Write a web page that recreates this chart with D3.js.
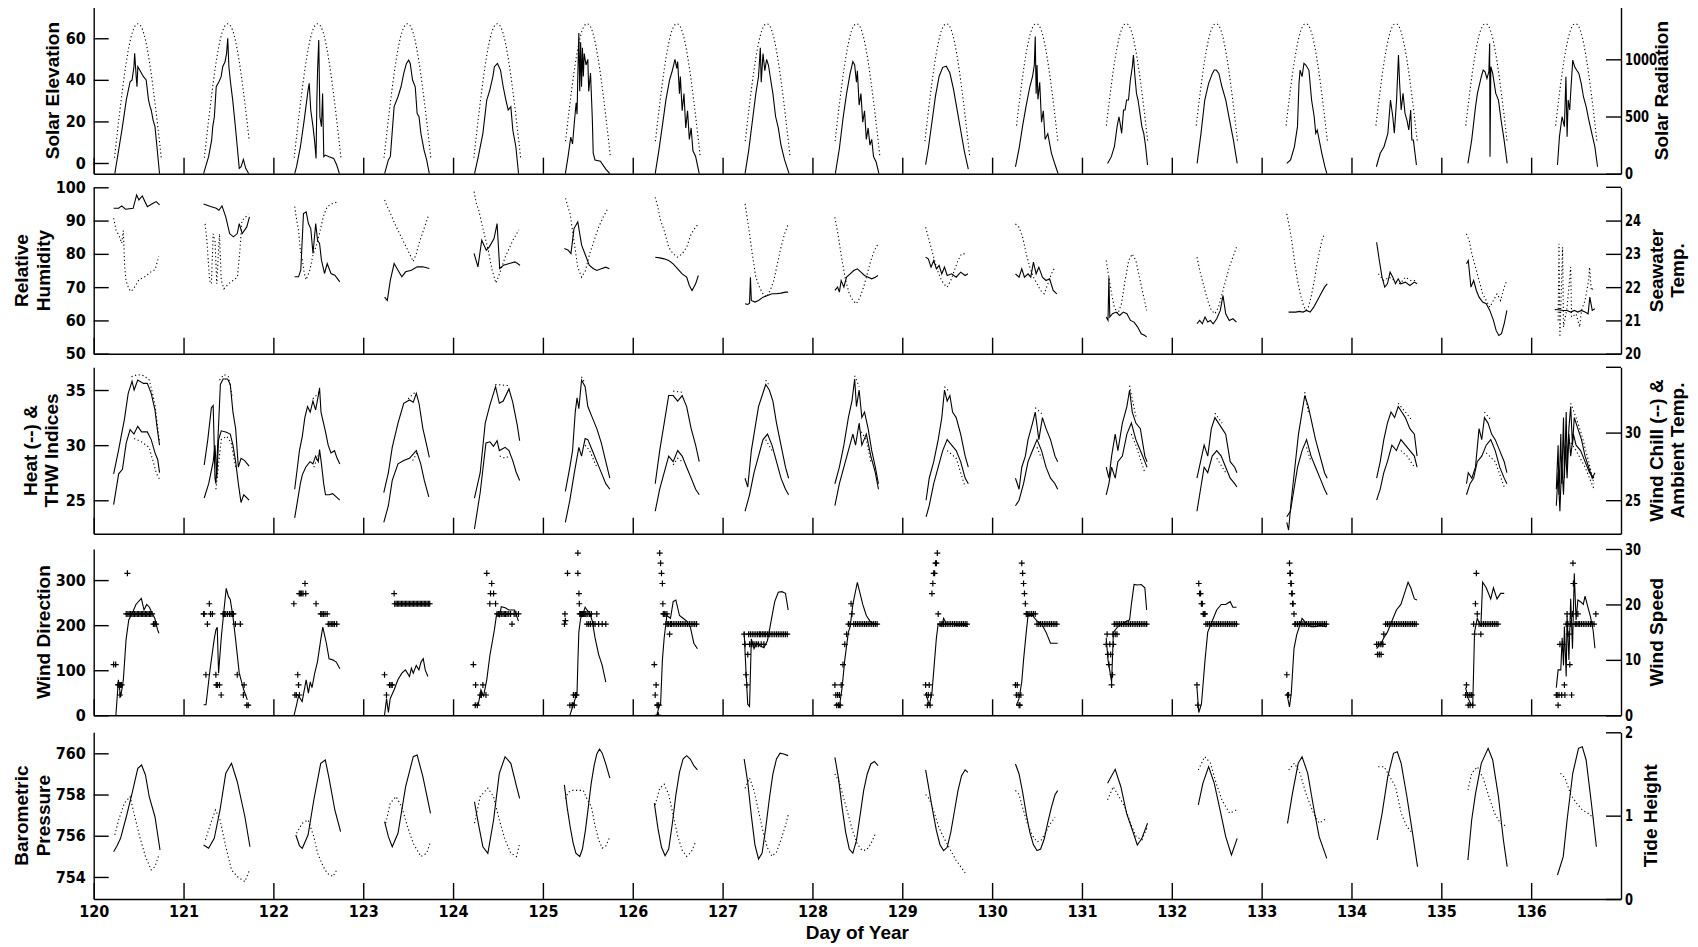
<!DOCTYPE html>
<html><head><meta charset="utf-8">
<script src="https://cdn.jsdelivr.net/npm/d3@7"></script>
<style>
html,body{margin:0;background:#fff;}
svg{display:block;}
.tick text{font-family:"Liberation Sans Narrow","Arial Narrow","DejaVu Sans Condensed",sans-serif;font-weight:bold;font-size:16px;fill:#000;}
.lab{font-family:"Liberation Sans",Arial,sans-serif;font-weight:bold;font-size:19px;fill:#000;}
</style></head><body>
<svg id="chart" width="1698" height="947"></svg>
<script>
(function(){
const days=[120,121,122,123,124,125,126,127,128,129,130,131,132,133,134,135,136];
const dayLabels=[120,121,122,123,124,125,126,127,128,129,130,131,132,133,134,135,136];

// solar elevation (deg) by time of day, and the logged part of each day
const sunT=[.212,.232,.252,.272,.292,.312,.332,.352,.372,.392,.412,.432,.452,.472,.492,.512,.532,.552,.572,.592,.612,.632,.652,.672,.692,.712,.732,.752,.772];
const sunElev=[-5,2.5,10.5,18,25.4,32.5,39.2,45.4,51,55.9,60,63.2,65.4,66.7,67,66.7,65.4,63.2,60,55.9,51,45.4,39.2,32.5,25.4,18,10.5,2.5,-5];
const sunWindow=[[.22,.76],[.22,.745],[.23,.76],[.225,.76],[.23,.76],[.24,.76],[.24,.76],[.245,.76],[.25,.76],[.25,.76],[.255,.75],[.26,.74],[.265,.74],[.265,.74],[.265,.74],[.27,.74],[.27,.74]];

// solar radiation (W/m2), [time of day, value]
const solarRad=[
[[.235,0],[.278,207],[.32,411],[.363,645],[.405,804],[.427,819],[.448,935],[.456,1052],[.473,848],[.482,760],[.491,935],[.512,906],[.554,848],[.584,819],[.61,645],[.627,586],[.64,557],[.661,469],[.682,411],[.704,236],[.733,0]],
[[.223,0],[.279,149],[.313,294],[.325,411],[.343,498],[.364,760],[.394,804],[.419,848],[.436,935],[.462,979],[.479,1052],[.492,1183],[.505,935],[.522,804],[.547,645],[.577,411],[.598,236],[.62,47],[.641,61],[.666,125],[.692,47],[.726,0]],
[[.237,0],[.258,61],[.301,236],[.343,469],[.386,731],[.399,790],[.416,557],[.441,411],[.458,294],[.475,134],[.484,644],[.492,906],[.505,1168],[.518,498],[.535,411],[.548,702],[.561,149],[.578,163],[.62,149],[.671,134],[.705,76],[.735,0]],
[[.238,0],[.28,120],[.302,149],[.344,586],[.387,673],[.421,760],[.451,877],[.481,964],[.506,993],[.523,964],[.549,819],[.579,760],[.6,527],[.621,498],[.642,353],[.677,207],[.706,120],[.736,0]],
[[.239,0],[.281,149],[.332,353],[.375,644],[.409,731],[.443,848],[.46,935],[.494,964],[.528,906],[.558,760],[.588,644],[.614,557],[.643,586],[.665,382],[.699,236],[.729,0]],
[[.25,0],[.28,150],[.31,320],[.33,260],[.35,450],[.37,620],[.38,520],[.39,900],[.40,1230],[.41,720],[.42,1150],[.43,760],[.44,1100],[.45,850],[.46,1050],[.48,950],[.50,1000],[.51,720],[.53,880],[.55,480],[.56,180],[.58,120],[.64,110],[.70,40],[.745,0]],
[[.25,0],[.29,200],[.33,420],[.37,650],[.41,820],[.44,900],[.47,1000],[.49,920],[.50,980],[.52,700],[.53,850],[.55,550],[.57,700],[.59,400],[.61,550],[.63,300],[.65,400],[.67,200],[.70,150],[.74,0]],
[[.25,0],[.29,200],[.33,450],[.37,700],[.40,850],[.42,1100],[.43,800],[.45,1050],[.47,900],[.49,1000],[.51,950],[.53,850],[.56,700],[.59,500],[.62,400],[.65,250],[.69,120],[.74,0]],
[[.255,0],[.30,220],[.34,480],[.38,700],[.42,880],[.45,980],[.47,950],[.49,800],[.50,900],[.52,600],[.54,700],[.56,450],[.58,550],[.60,300],[.62,400],[.64,250],[.66,300],[.68,150],[.71,100],[.74,0]],
[[.26,80],[.29,220],[.33,450],[.37,680],[.41,850],[.45,930],[.49,940],[.53,880],[.57,740],[.61,560],[.65,380],[.69,200],[.735,40]],
[[.26,60],[.30,220],[.34,420],[.38,600],[.42,760],[.45,850],[.47,950],[.48,1200],[.49,700],[.50,950],[.51,650],[.53,800],[.55,450],[.57,550],[.59,300],[.62,350],[.66,180],[.70,80],[.735,0]],
[[.285,90],[.327,149],[.361,236],[.391,411],[.412,498],[.425,440],[.442,353],[.463,557],[.48,557],[.497,644],[.518,644],[.539,819],[.561,935],[.573,1037],[.59,848],[.607,702],[.624,644],[.646,527],[.667,411],[.688,353],[.709,236],[.73,76]],
[[.282,90],[.325,353],[.367,644],[.41,790],[.452,877],[.473,906],[.495,906],[.524,877],[.558,760],[.601,644],[.643,469],[.686,294],[.728,90]],
[[.28,90],[.322,120],[.365,236],[.399,411],[.416,790],[.428,906],[.45,848],[.471,964],[.492,950],[.526,906],[.556,644],[.585,498],[.602,353],[.619,382],[.641,294],[.67,178],[.704,61],[.726,0]],
[[.277,61],[.32,178],[.362,236],[.405,353],[.434,644],[.46,498],[.477,353],[.502,644],[.523,1037],[.536,790],[.553,557],[.574,702],[.596,527],[.617,469],[.638,382],[.659,557],[.672,294],[.689,294],[.723,76]],
[[.296,90],[.338,294],[.381,586],[.402,702],[.445,848],[.466,906],[.487,891],[.508,833],[.529,891],[.538,1139],[.542,149],[.551,935],[.572,877],[.606,702],[.636,644],[.665,469],[.699,294],[.733,90]],
[[.293,76],[.315,324],[.344,498],[.37,411],[.387,848],[.40,324],[.412,644],[.429,557],[.442,731],[.463,993],[.484,935],[.506,906],[.531,877],[.557,790],[.582,673],[.612,586],[.642,469],[.675,353],[.709,236],[.739,61]]
];

// relative humidity (%)
const humidity=[
[[.222,90.7],[.25,87],[.278,85.7],[.312,83.2],[.33,87],[.345,76],[.36,72],[.39,69.5],[.418,68.7],[.46,70.2],[.503,72.2],[.575,73.2],[.64,74.7],[.682,75.2],[.725,79.2]],
[[.24,89],[.26,84],[.29,72],[.31,71],[.33,86],[.35,84],[.37,71],[.40,86],[.42,72],[.45,69.5],[.50,71],[.55,72],[.60,73],[.63,82],[.65,90],[.69,91],[.72,92]],
[[.237,94.2],[.26,90],[.28,87.2],[.30,81],[.322,78.2],[.345,74],[.365,72.2],[.407,75.2],[.441,79.7],[.475,82.2],[.514,86.2],[.556,91.2],[.599,94.2],[.663,95.2],[.727,95.7]],
[[.238,96.2],[.27,94],[.302,92.2],[.366,88.2],[.43,84.7],[.494,81.2],[.557,77.7],[.59,80],[.621,83.2],[.685,88.2],[.728,91.7]],
[[.234,98.7],[.26,95],[.285,93.2],[.336,87.2],[.391,81.2],[.434,75.2],[.477,71.2],[.519,74.2],[.583,79.2],[.668,84.2],[.732,87.2]],
[[.252,96.7],[.28,94],[.303,92],[.34,85],[.388,76],[.431,73],[.474,75],[.52,80],[.57,84],[.62,88],[.67,91],[.72,93.5]],
[[.25,97],[.28,94],[.31,90],[.35,87],[.40,82],[.45,80],[.50,79],[.55,80],[.60,82],[.65,86],[.70,88],[.73,89]],
[[.25,95],[.29,88],[.33,80],[.37,73],[.41,70],[.45,68],[.49,67],[.53,69],[.57,72],[.61,77],[.65,82],[.69,86],[.73,89]],
[[.25,91],[.29,85],[.33,78],[.37,72],[.41,68],[.45,66],[.49,65],[.53,67],[.57,70],[.61,74],[.65,78],[.69,81],[.73,83]],
[[.26,88],[.30,84],[.34,80],[.38,76],[.42,73],[.46,71],[.50,70],[.54,72],[.58,75],[.62,78],[.66,80],[.70,80]],
[[.26,89],[.30,88],[.34,85],[.38,80],[.42,76],[.46,73],[.50,71],[.54,69],[.58,68],[.62,71],[.66,74],[.70,76]],
[[.27,78],[.30,73],[.33,68],[.36,64],[.40,62],[.44,65],[.48,72],[.52,78],[.56,80],[.60,78],[.64,73],[.68,68],[.72,63]],
[[.28,79],[.32,74],[.36,70],[.40,66],[.44,63],[.48,62],[.52,64],[.56,68],[.60,72],[.64,76],[.68,79],[.72,82]],
[[.28,92],[.31,88],[.34,83],[.37,77],[.40,72],[.43,68],[.46,65],[.49,63],[.52,64],[.55,67],[.58,71],[.61,76],[.64,80],[.67,84],[.70,86]],
[[.30,74],[.36,72],[.42,73],[.48,72],[.54,71],[.60,73],[.66,72],[.72,72]],
[[.28,86],[.31,84],[.34,80],[.38,76],[.42,72],[.46,68],[.50,66],[.54,64],[.58,66],[.62,68],[.66,66],[.70,70],[.73,72]],
[[.30,60],[.31,83],[.32,55],[.35,82],[.36,58],[.40,64],[.44,76],[.45,61],[.50,62],[.54,58],[.56,63],[.60,66],[.64,72],[.65,76],[.67,69],[.70,70]]
];

// seawater temperature (C)
const seaTemp=[
[[.222,24.37],[.278,24.37],[.312,24.44],[.354,24.34],[.439,24.37],[.478,24.77],[.503,24.62],[.541,24.74],[.597,24.42],[.661,24.52],[.695,24.57],[.733,24.47]],
[[.223,24.5],[.30,24.42],[.364,24.37],[.394,24.31],[.428,24.44],[.47,24.11],[.513,23.61],[.555,23.51],[.598,23.61],[.62,23.91],[.653,23.61],[.704,23.81],[.734,24.11]],
[[.237,22.31],[.28,22.31],[.305,22.51],[.335,24.21],[.365,24.26],[.39,23.91],[.416,23.76],[.441,23.01],[.471,23.91],[.492,23.41],[.514,23.31],[.535,22.81],[.569,22.41],[.599,22.71],[.641,22.41],[.684,22.36],[.739,22.16]],
[[.238,21.7],[.268,21.6],[.302,22.21],[.344,22.71],[.387,22.51],[.43,22.31],[.472,22.46],[.536,22.51],[.6,22.61],[.664,22.61],[.736,22.56]],
[[.234,23.01],[.277,22.61],[.319,23.41],[.37,23.11],[.404,23.21],[.456,23.46],[.49,23.91],[.519,22.56],[.562,22.66],[.626,22.71],[.69,22.76],[.745,22.66]],
[[.239,23.16],[.282,23.11],[.312,23.01],[.346,23.76],[.388,23.96],[.431,23.26],[.474,22.96],[.516,22.66],[.559,22.56],[.60,22.5],[.65,22.55],[.70,22.6],[.74,22.55]],
[[.25,22.9],[.30,22.88],[.35,22.85],[.40,22.8],[.45,22.7],[.50,22.55],[.55,22.4],[.60,22.3],[.63,22.05],[.66,21.9],[.70,22.1],[.73,22.35]],
[[.25,21.5],[.28,21.48],[.30,21.52],[.31,22.3],[.32,21.6],[.36,21.55],[.40,21.6],[.45,21.7],[.50,21.75],[.55,21.8],[.60,21.8],[.65,21.82],[.70,21.85],[.73,21.85]],
[[.25,21.9],[.28,22.0],[.30,21.85],[.32,22.2],[.35,22.0],[.38,22.3],[.42,22.4],[.46,22.5],[.50,22.55],[.54,22.45],[.58,22.35],[.62,22.3],[.66,22.25],[.70,22.3],[.73,22.35]],
[[.26,22.9],[.29,22.85],[.32,22.6],[.35,22.8],[.38,22.55],[.41,22.65],[.44,22.4],[.47,22.6],[.50,22.35],[.55,22.4],[.60,22.3],[.65,22.45],[.70,22.35],[.73,22.4]],
[[.26,22.4],[.30,22.3],[.33,22.55],[.36,22.3],[.40,22.4],[.43,22.3],[.46,22.75],[.49,22.4],[.52,22.6],[.56,22.3],[.60,22.2],[.64,22.25],[.68,21.9],[.72,21.8]],
[[.27,21.1],[.29,21.0],[.30,22.3],[.31,21.1],[.34,21.2],[.38,21.25],[.42,21.15],[.46,21.25],[.50,21.2],[.54,21.0],[.58,20.95],[.62,20.8],[.66,20.6],[.70,20.55],[.72,20.5]],
[[.28,20.9],[.31,21.0],[.34,20.9],[.37,21.1],[.40,20.95],[.43,21.0],[.46,20.9],[.50,21.05],[.54,21.3],[.57,21.75],[.60,21.2],[.64,21.0],[.68,21.05],[.72,20.95]],
[[.30,21.25],[.34,21.25],[.38,21.25],[.42,21.27],[.46,21.25],[.50,21.3],[.54,21.25],[.58,21.4],[.62,21.6],[.66,21.8],[.70,22.0],[.73,22.1]],
[[.28,23.35],[.31,22.8],[.34,22.3],[.37,22.0],[.40,22.1],[.43,22.45],[.46,22.3],[.49,22.1],[.52,22.25],[.55,22.1],[.60,22.15],[.65,22.05],[.70,22.15],[.73,22.1]],
[[.28,22.7],[.30,22.8],[.33,22.0],[.36,22.2],[.39,21.9],[.42,21.7],[.46,21.55],[.50,21.5],[.54,21.3],[.58,21.0],[.61,20.7],[.64,20.55],[.67,20.6],[.70,20.9],[.73,21.3]],
[[.263,21.33],[.30,21.32],[.36,21.3],[.40,21.3],[.44,21.25],[.48,21.3],[.52,21.25],[.56,21.3],[.60,21.25],[.634,21.2],[.653,21.7],[.68,21.3],[.709,21.35]]
];

// heat index (solid) and THW index (dotted), left scale
const heatIndex=[
[[.222,27.4],[.278,29.6],[.32,31.4],[.341,32.3],[.384,34.7],[.427,35.8],[.45,35.0],[.49,35.9],[.554,35.6],[.597,35.6],[.64,34.7],[.682,33.2],[.704,31.7],[.733,30.0]],
[[.23,28.2],[.27,30.5],[.31,33.4],[.33,33.6],[.35,27.0],[.36,26.5],[.38,30.0],[.41,35.5],[.44,36.0],[.49,36.0],[.52,35.5],[.55,33.0],[.58,31.5],[.61,28.0],[.64,28.8],[.68,28.6],[.73,28.1]],
[[.237,26.0],[.26,27.5],[.29,29.5],[.322,30.8],[.35,32.5],[.38,33.5],[.41,33.0],[.44,34.0],[.47,33.2],[.50,34.5],[.514,35.2],[.53,33.0],[.578,31.3],[.61,30.0],[.641,29.3],[.68,29.5],[.705,28.9],[.739,28.3]],
[[.229,25.7],[.28,27.5],[.323,29.8],[.387,32.0],[.451,33.8],[.515,34.1],[.557,33.9],[.591,34.7],[.621,33.8],[.664,31.5],[.706,30.0],[.736,28.9]],
[[.238,25.2],[.302,27.5],[.358,32.0],[.409,33.6],[.473,35.3],[.515,33.8],[.558,34.0],[.622,35.1],[.664,33.9],[.715,31.8],[.741,30.4]],
[[.25,25.8],[.30,28.0],[.33,29.5],[.36,33.0],[.38,34.3],[.40,33.3],[.43,35.9],[.47,35.3],[.50,33.5],[.55,32.5],[.60,31.5],[.65,30.2],[.70,28.5],[.745,27.0]],
[[.25,26.5],[.30,29.5],[.35,32.0],[.40,34.5],[.45,34.5],[.50,34.0],[.55,34.5],[.60,33.5],[.65,31.5],[.70,30.0],[.74,28.5]],
[[.25,27.0],[.28,26.2],[.32,29.5],[.36,31.5],[.40,33.5],[.44,34.5],[.48,35.5],[.52,35.0],[.56,34.0],[.60,32.0],[.65,30.0],[.70,28.0],[.735,27.0]],
[[.25,26.5],[.30,28.0],[.35,30.0],[.40,32.5],[.44,34.0],[.47,36.0],[.49,33.5],[.52,35.0],[.55,32.5],[.58,33.0],[.62,31.5],[.66,29.5],[.70,28.0],[.735,26.5]],
[[.265,25.0],[.30,27.0],[.35,28.5],[.40,30.5],[.44,32.5],[.47,35.0],[.50,34.0],[.53,34.5],[.56,33.0],[.60,32.5],[.65,31.0],[.70,29.0],[.735,28.0]],
[[.26,27.0],[.30,26.0],[.33,28.0],[.37,29.0],[.40,30.5],[.45,32.0],[.48,33.0],[.52,30.5],[.56,32.5],[.60,31.5],[.65,30.5],[.70,29.0],[.73,28.5]],
[[.27,28.0],[.30,27.0],[.33,29.0],[.37,31.0],[.40,29.5],[.45,32.0],[.50,33.5],[.53,35.0],[.56,33.0],[.60,32.0],[.65,31.5],[.70,29.0],[.725,28.5]],
[[.28,27.0],[.32,28.5],[.36,30.0],[.40,29.0],[.44,31.5],[.48,32.5],[.52,32.0],[.56,31.5],[.60,31.0],[.65,28.5],[.70,28.0],[.725,27.5]],
[[.28,23.0],[.30,22.3],[.33,25.0],[.37,28.0],[.41,31.0],[.45,33.0],[.48,34.5],[.52,33.5],[.56,32.0],[.60,30.5],[.65,29.0],[.70,27.5],[.73,27.0]],
[[.28,27.0],[.32,28.5],[.36,30.5],[.40,32.0],[.44,33.0],[.48,32.5],[.52,33.5],[.56,33.0],[.60,32.5],[.65,31.5],[.70,31.0],[.73,29.0]],
[[.28,26.5],[.30,27.5],[.34,27.0],[.38,28.0],[.42,31.5],[.45,30.5],[.48,32.5],[.52,32.0],[.56,31.0],[.60,30.5],[.65,29.5],[.70,28.5],[.73,27.5]],
[[.28,26.0],[.30,30.0],[.31,25.5],[.33,31.0],[.34,26.5],[.36,32.5],[.37,27.0],[.39,33.0],[.40,28.0],[.42,31.5],[.44,33.5],[.46,30.0],[.48,32.5],[.52,31.5],[.56,30.5],[.60,29.0],[.64,28.0],[.68,27.0],[.71,27.5]]
];
const thwIndex=[
[[.42,36.2],[.49,36.4],[.56,36.3],[.62,35.9],[.68,33.8],[.73,30.4]],
[[.40,35.9],[.45,36.4],[.50,36.2],[.54,34.5]],
[[.44,34.2],[.50,34.7],[.52,35.0]],
[[.50,34.2],[.59,34.9]],
[[.47,35.5],[.62,35.4]],
[[.43,36.2],[.47,35.6]],
[[.45,34.9],[.55,34.8]],
[[.48,35.9],[.52,35.4]],
[[.47,36.3],[.52,35.3]],
[[.47,35.3],[.53,34.8]],
[[.48,33.4],[.56,32.8]],
[[.53,35.4],[.60,32.6]],
[[.48,32.9],[.56,32.0]],
[[.48,34.8],[.52,33.0]],
[[.52,33.8],[.60,33.0],[.68,32.2]],
[[.48,33.0],[.55,32.3]],
[[.44,33.8],[.50,32.5],[.56,31.0],[.64,28.5],[.70,26.5]]
];

// wind chill (solid) and ambient temperature (dotted), right scale
const windChill=[
[[.222,24.67],[.278,26.95],[.32,27.28],[.362,29.24],[.405,30.22],[.448,29.89],[.49,30.46],[.533,30.05],[.597,30.05],[.64,29.48],[.682,28.5],[.712,28.01],[.733,27.04]],
[[.23,25.16],[.28,26.22],[.33,27.85],[.35,29.07],[.37,26.63],[.39,29.48],[.42,30.13],[.47,30.05],[.52,29.89],[.55,29.07],[.58,27.85],[.61,26.22],[.64,24.83],[.67,25.4],[.73,25.0]],
[[.237,23.69],[.27,25.0],[.30,26.22],[.322,26.87],[.36,27.44],[.407,27.85],[.44,27.69],[.47,28.26],[.50,27.85],[.514,28.75],[.535,27.69],[.56,26.22],[.58,25.4],[.62,25.4],[.66,25.48],[.70,25.24],[.739,25.0]],
[[.229,23.36],[.28,24.59],[.323,26.46],[.387,27.69],[.451,27.93],[.515,28.1],[.591,28.67],[.64,27.69],[.68,26.46],[.73,25.24]],
[[.238,22.87],[.302,25.57],[.366,29.24],[.41,29.32],[.45,28.99],[.49,29.4],[.515,28.67],[.58,28.91],[.622,28.67],[.664,27.93],[.70,27.12],[.741,26.46]],
[[.25,23.36],[.30,25.0],[.35,27.04],[.40,28.91],[.43,28.26],[.47,29.56],[.50,29.48],[.55,28.67],[.60,27.85],[.65,27.04],[.70,26.22],[.745,25.81]],
[[.25,24.18],[.30,25.81],[.35,27.04],[.40,28.26],[.45,27.85],[.50,28.67],[.55,28.26],[.60,27.44],[.65,26.63],[.70,25.81],[.74,25.4]],
[[.25,24.18],[.30,25.4],[.35,27.04],[.40,28.26],[.45,29.48],[.50,29.89],[.55,29.07],[.60,27.85],[.65,26.63],[.70,25.81],[.735,25.4]],
[[.25,24.59],[.30,26.22],[.35,27.44],[.40,28.67],[.45,29.89],[.48,29.07],[.52,30.71],[.55,29.07],[.60,29.89],[.65,28.26],[.70,27.04],[.735,25.81]],
[[.265,23.77],[.30,24.59],[.35,26.22],[.40,27.44],[.45,28.67],[.50,29.48],[.55,29.07],[.60,28.67],[.65,27.85],[.70,26.63],[.735,26.22]],
[[.26,24.59],[.30,25.0],[.35,26.22],[.40,27.85],[.45,28.67],[.50,29.48],[.55,28.67],[.60,27.44],[.65,26.63],[.70,26.22],[.73,25.81]],
[[.27,25.4],[.30,26.22],[.33,27.44],[.37,26.63],[.40,27.85],[.45,28.26],[.50,29.89],[.55,30.71],[.60,29.48],[.65,28.67],[.70,27.85],[.725,27.44]],
[[.28,24.18],[.32,25.81],[.36,27.44],[.40,27.04],[.45,28.26],[.50,28.67],[.55,28.26],[.60,27.44],[.65,26.63],[.70,26.22],[.725,25.97]],
[[.28,23.77],[.32,24.18],[.36,25.81],[.40,27.44],[.45,28.67],[.50,29.48],[.55,28.26],[.60,27.44],[.65,26.63],[.70,25.81],[.73,25.4]],
[[.28,25.0],[.32,25.81],[.36,27.04],[.40,27.85],[.45,29.07],[.50,28.67],[.55,29.48],[.60,29.07],[.65,28.67],[.70,28.26],[.73,27.44]],
[[.28,25.4],[.32,26.22],[.36,26.63],[.40,27.85],[.45,28.26],[.50,29.07],[.55,29.48],[.60,28.67],[.65,27.44],[.70,26.63],[.73,26.22]],
[[.28,24.59],[.30,27.04],[.32,24.18],[.34,27.85],[.36,25.4],[.38,29.07],[.40,26.63],[.42,29.89],[.44,28.26],[.47,29.89],[.50,29.07],[.55,28.67],[.60,27.85],[.65,27.04],[.70,26.63]]
];
const ambientTemp=[
[[.45,29.56],[.53,29.32],[.617,28.91],[.70,26.95],[.733,26.55]],
[[.36,25.81],[.42,29.48],[.48,29.73],[.53,29.24],[.58,27.44]],
[[.45,27.44],[.51,28.5]],
[[.55,27.93],[.60,28.5]],
[[.52,28.26],[.58,28.1],[.62,28.26]],
[[.47,29.07],[.52,28.67],[.60,27.44]],
[[.45,27.61],[.50,28.1],[.55,27.85]],
[[.48,29.48],[.55,28.67]],
[[.52,30.3],[.60,29.48],[.65,27.85]],
[[.50,28.67],[.60,28.1],[.70,25.97]],
[[.50,28.91],[.55,28.1]],
[[.55,29.89],[.60,29.07],[.70,27.04]],
[[.50,28.1],[.60,27.04]],
[[.50,28.91],[.55,27.85]],
[[.55,28.67],[.62,28.26],[.70,27.44]],
[[.50,28.5],[.60,27.85],[.70,25.97]],
[[.42,29.48],[.50,28.67],[.60,27.44],[.70,25.81]]
];

// wind direction (deg, + markers)
const windDir=[
[[.222,112.5],[.245,112.5],[.27,67.5],[.285,67.5],[.292,45],[.30,67.5],[.31,67.5],[.362,225],[.375,315],[.38,225],[.395,225],[.41,225],[.425,225],[.44,225],[.455,225],[.47,225],[.485,225],[.50,225],[.515,225],[.53,225],[.545,225],[.56,225],[.575,225],[.59,225],[.605,225],[.62,225],[.635,225],[.65,225],[.665,202.5],[.68,202.5],[.695,202.5]],
[[.223,225],[.23,225],[.249,90],[.266,202.5],[.287,247.5],[.30,225],[.321,225],[.36,90],[.364,67.5],[.376,67.5],[.40,67.5],[.419,45],[.44,225],[.455,225],[.47,225],[.49,225],[.513,225],[.53,225],[.545,225],[.555,225],[.577,202.5],[.598,90],[.632,202.5],[.666,45],[.674,67.5],[.704,22.5],[.72,22.5]],
[[.228,247.5],[.24,45],[.255,45],[.271,90],[.28,67.5],[.29,45],[.288,270],[.30,270],[.315,270],[.33,270],[.352,292.5],[.36,270],[.475,247.5],[.527,225],[.54,225],[.556,225],[.575,225],[.599,225],[.611,202.5],[.63,202.5],[.65,202.5],[.663,202.5],[.68,202.5],[.705,202.5]],
[[.237,90],[.259,45],[.293,67.5],[.31,67.5],[.323,67.5],[.344,270],[.35,247.5],[.365,247.5],[.38,247.5],[.395,247.5],[.41,247.5],[.425,247.5],[.44,247.5],[.455,247.5],[.47,247.5],[.485,247.5],[.50,247.5],[.515,247.5],[.53,247.5],[.545,247.5],[.56,247.5],[.575,247.5],[.59,247.5],[.605,247.5],[.62,247.5],[.635,247.5],[.65,247.5],[.665,247.5],[.68,247.5],[.695,247.5],[.71,247.5],[.725,247.5],[.74,247.5]],
[[.226,112.5],[.247,22.5],[.251,67.5],[.27,22.5],[.302,45],[.315,45],[.332,67.5],[.366,45],[.375,315],[.409,247.5],[.417,270],[.43,292.5],[.451,270],[.473,247.5],[.49,225],[.505,225],[.52,225],[.537,225],[.555,225],[.57,225],[.585,225],[.601,225],[.62,225],[.64,225],[.656,202.5],[.68,225],[.70,225],[.728,225]],
[[.24,202.5],[.245,225],[.25,210],[.274,315],[.30,22.5],[.325,22.5],[.33,22.5],[.34,45],[.35,22.5],[.36,45],[.367,45],[.375,45],[.389,315],[.389,360],[.401,270],[.405,247.5],[.41,225],[.42,225],[.43,225],[.44,225],[.45,225],[.46,225],[.47,225],[.48,225],[.49,202.5],[.50,225],[.51,202.5],[.52,225],[.53,202.5],[.54,225],[.56,202.5],[.58,202.5],[.60,225],[.62,202.5],[.66,202.5],[.70,202.5]],
[[.24,112.5],[.25,45],[.26,67.5],[.27,22.5],[.275,0],[.28,22.5],[.285,0],[.29,22.5],[.30,360],[.31,337.5],[.32,315],[.33,292.5],[.335,247.5],[.34,225],[.35,225],[.36,225],[.37,202.5],[.38,225],[.39,202.5],[.40,202.5],[.41,180],[.42,202.5],[.43,202.5],[.45,202.5],[.47,202.5],[.49,202.5],[.51,202.5],[.53,202.5],[.55,202.5],[.57,202.5],[.59,202.5],[.61,202.5],[.63,202.5],[.65,202.5],[.67,202.5],[.69,202.5],[.71,202.5]],
[[.24,180],[.25,157.5],[.26,90],[.27,67.5],[.28,135],[.29,180],[.30,157.5],[.31,180],[.32,157.5],[.33,180],[.34,157.5],[.35,180],[.36,157.5],[.37,180],[.38,157.5],[.39,180],[.40,157.5],[.41,180],[.42,180],[.43,157.5],[.44,180],[.45,180],[.46,157.5],[.47,180],[.48,180],[.50,180],[.52,180],[.54,180],[.56,180],[.58,180],[.60,180],[.62,180],[.64,180],[.66,180],[.68,180],[.70,180],[.72,180]],
[[.25,67.5],[.26,45],[.27,22.5],[.28,45],[.29,22.5],[.30,45],[.31,22.5],[.32,67.5],[.34,112.5],[.36,157.5],[.38,180],[.40,202.5],[.42,202.5],[.43,247.5],[.44,225],[.46,202.5],[.48,202.5],[.50,202.5],[.52,202.5],[.54,202.5],[.56,202.5],[.58,202.5],[.60,202.5],[.62,202.5],[.64,202.5],[.66,202.5],[.68,202.5],[.70,202.5],[.72,202.5]],
[[.26,67.5],[.27,45],[.28,22.5],[.29,45],[.30,67.5],[.31,22.5],[.32,45],[.33,270],[.34,292.5],[.35,315],[.36,315],[.37,337.5],[.38,337.5],[.39,360],[.40,225],[.42,202.5],[.44,202.5],[.46,202.5],[.48,202.5],[.50,202.5],[.52,202.5],[.54,202.5],[.56,202.5],[.58,202.5],[.60,202.5],[.62,202.5],[.64,202.5],[.66,202.5],[.68,202.5],[.70,202.5],[.72,202.5]],
[[.26,67.5],[.27,45],[.28,67.5],[.29,45],[.30,22.5],[.31,22.5],[.32,45],[.33,337.5],[.34,315],[.35,292.5],[.36,270],[.37,247.5],[.38,225],[.39,225],[.40,225],[.42,225],[.44,225],[.46,225],[.48,225],[.50,202.5],[.52,202.5],[.54,202.5],[.56,202.5],[.58,202.5],[.60,202.5],[.62,202.5],[.64,202.5],[.66,202.5],[.68,202.5],[.70,202.5],[.72,202.5]],
[[.27,157.5],[.28,180],[.29,135],[.30,112.5],[.31,157.5],[.32,135],[.33,67.5],[.34,90],[.345,180],[.35,157.5],[.36,202.5],[.37,180],[.38,202.5],[.39,180],[.40,202.5],[.42,202.5],[.44,202.5],[.46,202.5],[.48,202.5],[.50,202.5],[.52,202.5],[.54,202.5],[.56,202.5],[.58,202.5],[.60,202.5],[.62,202.5],[.64,202.5],[.66,202.5],[.68,202.5],[.70,202.5],[.72,202.5]],
[[.28,67.5],[.29,22.5],[.30,292.5],[.31,270],[.32,270],[.33,247.5],[.34,247.5],[.35,225],[.36,225],[.37,225],[.38,202.5],[.40,202.5],[.42,202.5],[.44,202.5],[.46,202.5],[.48,202.5],[.50,202.5],[.52,202.5],[.54,202.5],[.56,202.5],[.58,202.5],[.60,202.5],[.62,202.5],[.64,202.5],[.66,202.5],[.68,202.5],[.70,202.5],[.72,202.5]],
[[.28,90],[.29,45],[.30,45],[.31,337.5],[.315,315],[.32,315],[.325,292.5],[.33,292.5],[.335,270],[.34,270],[.345,247.5],[.35,247.5],[.36,225],[.37,202.5],[.38,202.5],[.40,202.5],[.42,202.5],[.44,202.5],[.46,202.5],[.48,202.5],[.50,202.5],[.52,202.5],[.54,202.5],[.56,202.5],[.58,202.5],[.60,202.5],[.62,202.5],[.64,202.5],[.66,202.5],[.68,202.5],[.70,202.5],[.72,202.5]],
[[.28,157.5],[.29,135],[.30,157.5],[.31,135],[.32,157.5],[.33,135],[.34,157.5],[.35,157.5],[.36,180],[.38,202.5],[.40,202.5],[.42,202.5],[.44,202.5],[.46,202.5],[.48,202.5],[.50,202.5],[.52,202.5],[.54,202.5],[.56,202.5],[.58,202.5],[.60,202.5],[.62,202.5],[.64,202.5],[.66,202.5],[.68,202.5],[.70,202.5],[.72,202.5]],
[[.27,45],[.28,67.5],[.29,45],[.30,22.5],[.31,45],[.32,22.5],[.33,45],[.34,45],[.35,22.5],[.36,202.5],[.37,180],[.38,247.5],[.39,315],[.40,225],[.42,202.5],[.44,180],[.45,202.5],[.47,202.5],[.49,202.5],[.51,202.5],[.53,202.5],[.55,202.5],[.57,202.5],[.59,202.5],[.61,202.5],[.63,202.5]],
[[.28,45],[.29,45],[.30,22.5],[.31,45],[.32,157.5],[.34,45],[.35,157.5],[.37,67.5],[.375,45],[.39,202.5],[.40,225],[.41,202.5],[.42,180],[.43,112.5],[.44,202.5],[.45,45],[.46,225],[.465,337.5],[.47,292.5],[.48,292.5],[.49,202.5],[.50,202.5],[.51,202.5],[.52,225],[.53,202.5],[.54,202.5],[.56,202.5],[.58,202.5],[.60,202.5],[.62,202.5],[.64,202.5],[.66,202.5],[.68,202.5],[.70,202.5],[.72,225]]
];

// wind speed
const windSpeed=[
[[.247,0],[.275,6.4],[.30,3.3],[.33,6.4],[.36,13.6],[.39,17.2],[.43,18.4],[.47,20.0],[.53,21.1],[.56,19.0],[.59,20.0],[.62,19.5],[.65,18.4],[.68,17.5],[.71,15.5],[.726,14.8]],
[[.223,1.9],[.25,1.9],[.29,7.6],[.34,13.6],[.36,15.4],[.375,15.9],[.39,7.6],[.42,14],[.45,19],[.475,22.9],[.50,21.4],[.52,20.9],[.55,17.8],[.58,13.6],[.62,7.6],[.67,4.6],[.71,2.8]],
[[.23,0],[.26,2],[.28,3.5],[.32,2.5],[.365,6.4],[.39,4],[.41,6],[.43,5],[.46,7.6],[.49,9.6],[.527,13.6],[.55,15.9],[.59,13.0],[.62,10.2],[.66,10.0],[.70,9.6],[.74,8.4]],
[[.237,0],[.26,3],[.28,0.5],[.30,3],[.344,4.6],[.386,6.4],[.43,7.6],[.47,8.2],[.515,7.0],[.536,8.5],[.557,7.6],[.59,9],[.62,8.2],[.643,9.6],[.668,10.2],[.69,8.2],[.72,7.0]],
[[.226,1.9],[.28,1.9],[.31,4.6],[.34,3.5],[.375,6.4],[.409,10.7],[.46,15.4],[.486,18.4],[.515,17.8],[.537,19.6],[.58,19.4],[.62,19.0],[.685,19.0],[.728,17.0]],
[[.30,0],[.32,1],[.34,2],[.36,3],[.38,4],[.39,10],[.40,15],[.42,17.5],[.45,18.5],[.47,19.5],[.49,19],[.52,18.5],[.55,17],[.58,14],[.62,11],[.66,9],[.70,6]],
[[.27,0],[.29,1.5],[.31,2],[.33,10],[.35,14],[.38,18],[.42,17.5],[.45,20.5],[.48,20.8],[.52,18],[.56,17.5],[.60,17],[.64,16],[.68,13],[.72,12]],
[[.24,15],[.26,8],[.28,2],[.30,1.6],[.32,13.8],[.35,12],[.38,13],[.42,12.5],[.46,12.2],[.50,13.5],[.54,17],[.58,20.5],[.62,22.2],[.66,22.3],[.70,22],[.73,19]],
[[.25,2],[.28,2],[.30,1.5],[.33,5],[.36,10],[.40,15],[.42,16],[.45,20],[.50,24],[.53,22],[.56,20],[.60,18],[.64,17],[.68,16.5],[.72,16.5]],
[[.26,4],[.28,3],[.30,1.8],[.33,4],[.36,10],[.38,14],[.40,16.5],[.44,16],[.46,17.5],[.50,16.3],[.55,16.5],[.60,16.2],[.65,16.3],[.70,16.2],[.73,16]],
[[.27,1.8],[.30,3],[.33,6],[.35,10],[.38,15],[.40,18],[.45,18],[.50,17],[.55,16.5],[.60,15],[.65,13],[.70,13],[.73,13]],
[[.27,14],[.29,10],[.31,8],[.33,6],[.35,15],[.40,16],[.45,16.5],[.50,17],[.53,17.2],[.55,20],[.58,23.6],[.62,23.5],[.66,23.6],[.70,23],[.72,19]],
[[.28,5],[.30,0.5],[.33,2],[.37,10],[.40,15],[.45,17],[.50,19],[.55,20],[.60,20],[.65,20.5],[.68,19.5],[.72,19.5]],
[[.28,4],[.31,1.5],[.33,4],[.36,12],[.39,14.5],[.42,16],[.45,17.5],[.50,16.5],[.55,16],[.60,16],[.65,16.2],[.72,16]],
[[.28,12],[.30,12.5],[.33,13],[.36,14],[.40,15],[.45,17],[.50,19],[.55,20],[.60,22.5],[.63,24],[.66,23],[.70,21],[.73,20.8]],
[[.27,5],[.30,3],[.33,2],[.35,2],[.37,15],[.40,17.5],[.44,16],[.46,24],[.50,23],[.55,21],[.58,23],[.62,21],[.66,22],[.70,22]],
[[.28,5],[.30,8.2],[.33,8.2],[.345,14],[.36,9],[.37,16],[.39,7],[.40,18],[.42,10],[.44,21],[.46,12],[.48,25.6],[.50,17.2],[.52,20.8],[.55,20.5],[.58,20],[.60,21.5],[.63,19.6],[.66,17.8],[.69,15.3],[.71,12.1]]
];

// barometric pressure (mmHg, dotted)
const pressure=[
[[.235,756.04],[.278,756.77],[.341,757.58],[.405,757.9],[.448,757.09],[.512,755.96],[.576,754.99],[.64,754.34],[.682,754.5],[.725,755.07]],
[[.244,755.8],[.29,756.44],[.355,757.25],[.406,756.77],[.47,755.47],[.534,754.34],[.598,754.02],[.683,753.77],[.734,754.34]],
[[.258,756.12],[.322,756.61],[.386,756.77],[.45,755.96],[.492,755.15],[.556,754.5],[.599,754.18],[.663,754.02],[.705,754.34]],
[[.25,756.61],[.301,757.58],[.365,757.9],[.429,757.41],[.493,756.44],[.557,755.63],[.642,754.99],[.706,755.15],[.749,755.71]],
[[.238,756.61],[.302,757.9],[.387,758.31],[.451,757.9],[.515,756.77],[.579,755.8],[.643,755.15],[.707,754.99],[.741,755.63]],
[[.25,757.8],[.28,758.1],[.32,758.2],[.36,758.2],[.40,758.2],[.45,758.2],[.50,757.7],[.54,757.4],[.58,756.5],[.62,755.8],[.66,755.4],[.70,755.5],[.74,755.9]],
[[.25,757.5],[.30,758.3],[.35,758.5],[.40,758.0],[.45,757.0],[.50,756.0],[.55,755.3],[.60,755.0],[.65,755.2],[.70,755.7]],
[[.25,758.3],[.30,758.8],[.35,758.2],[.40,757.2],[.45,756.2],[.50,755.4],[.55,755.0],[.60,755.2],[.65,755.8],[.70,756.5],[.73,757.0]],
[[.25,759.0],[.30,758.6],[.35,757.8],[.40,757.0],[.45,756.2],[.50,755.6],[.55,755.3],[.60,755.3],[.65,755.6],[.70,756.1]],
[[.26,758.0],[.30,757.8],[.35,757.2],[.40,756.5],[.45,756.0],[.50,755.6],[.55,755.2],[.60,754.8],[.65,754.5],[.70,754.2]],
[[.26,758.2],[.30,758.0],[.35,757.2],[.40,756.5],[.45,756.0],[.50,755.7],[.55,755.8],[.60,756.2],[.65,756.6],[.70,756.9]],
[[.285,757.74],[.349,758.38],[.412,757.9],[.476,757.41],[.54,756.61],[.603,755.96],[.667,755.8],[.73,756.44]],
[[.295,759.19],[.367,759.84],[.431,759.52],[.494,758.55],[.558,757.74],[.643,757.09],[.719,757.25]],
[[.301,759.19],[.365,759.52],[.428,759.03],[.492,758.06],[.577,757.09],[.64,756.61],[.725,756.85]],
[[.298,759.35],[.362,759.35],[.426,758.87],[.49,758.38],[.553,757.09],[.617,756.44],[.68,756.12]],
[[.296,758.22],[.338,759.03],[.402,759.35],[.466,758.79],[.53,757.9],[.593,757.09],[.657,756.61],[.733,756.44]],
[[.327,759.03],[.378,758.79],[.442,757.98],[.506,757.58],[.569,757.25],[.633,757.09],[.697,756.85]]
];

// tide height (m, solid)
const tide=[
[[.222,0.567],[.26,0.64],[.299,0.728],[.363,0.987],[.427,1.268],[.491,1.568],[.533,1.608],[.576,1.488],[.618,1.227],[.682,0.987],[.738,0.588]],
[[.223,0.648],[.279,0.608],[.342,0.728],[.406,1.068],[.47,1.508],[.534,1.628],[.598,1.407],[.683,0.987],[.739,0.627]],
[[.25,0.768],[.29,0.64],[.322,0.608],[.386,0.768],[.45,1.188],[.527,1.628],[.578,1.668],[.62,1.448],[.684,1.068],[.748,0.808]],
[[.238,0.928],[.28,0.748],[.323,0.627],[.387,0.788],[.472,1.347],[.557,1.707],[.6,1.728],[.664,1.467],[.749,1.028]],
[[.238,1.167],[.281,0.908],[.332,0.627],[.387,0.548],[.451,0.948],[.515,1.508],[.579,1.707],[.643,1.628],[.707,1.347],[.741,1.208]],
[[.239,1.37],[.27,1.1],[.303,0.87],[.335,0.68],[.367,0.55],[.41,0.51],[.44,0.6],[.474,0.83],[.505,1.1],[.538,1.39],[.57,1.6],[.60,1.74],[.63,1.8],[.66,1.75],[.70,1.62],[.745,1.45]],
[[.24,1.15],[.28,0.85],[.32,0.62],[.36,0.52],[.40,0.6],[.44,0.9],[.48,1.25],[.52,1.52],[.56,1.68],[.60,1.72],[.64,1.68],[.68,1.6],[.72,1.55]],
[[.24,1.68],[.28,1.4],[.32,1.0],[.36,0.65],[.40,0.48],[.44,0.55],[.48,0.85],[.52,1.2],[.56,1.5],[.60,1.68],[.64,1.75],[.68,1.74],[.73,1.72]],
[[.25,1.7],[.29,1.45],[.33,1.1],[.37,0.8],[.41,0.6],[.45,0.55],[.49,0.7],[.53,1.0],[.57,1.3],[.61,1.5],[.65,1.62],[.69,1.65],[.73,1.6]],
[[.26,1.55],[.30,1.3],[.34,1.05],[.38,0.82],[.42,0.65],[.46,0.58],[.50,0.62],[.54,0.8],[.58,1.05],[.62,1.3],[.66,1.48],[.70,1.55],[.73,1.52]],
[[.26,1.62],[.30,1.5],[.34,1.28],[.38,1.02],[.42,0.8],[.46,0.65],[.50,0.58],[.54,0.6],[.58,0.72],[.62,0.92],[.66,1.1],[.70,1.25],[.73,1.3]],
[[.285,1.388],[.37,1.556],[.433,1.347],[.497,1.028],[.561,0.828],[.616,0.648],[.667,0.728],[.73,0.908]],
[[.295,1.128],[.346,1.388],[.41,1.588],[.473,1.388],[.537,1.068],[.6,0.748],[.664,0.528],[.728,0.728]],
[[.288,0.908],[.343,1.268],[.407,1.628],[.45,1.707],[.513,1.508],[.577,1.107],[.64,0.748],[.725,0.488]],
[[.286,0.708],[.341,1.028],[.404,1.467],[.468,1.748],[.51,1.767],[.553,1.628],[.617,1.227],[.68,0.788],[.735,0.388]],
[[.296,0.468],[.338,0.948],[.381,1.268],[.445,1.628],[.521,1.808],[.572,1.668],[.636,1.227],[.691,0.708],[.733,0.388]],
[[.293,0.288],[.357,0.508],[.40,0.948],[.463,1.508],[.527,1.808],[.569,1.828],[.612,1.668],[.675,1.107],[.726,0.627]]
];

const svg=d3.select('#chart');
const x=d3.scaleLinear().domain([120,137]).range([93.7,1621]);

const panels=[
 {top:7.5,bot:173.7,yl:[-5.15,74.8],yr:[0,1453],tl:[0,20,40,60],tr:[0,500,1000],topTick:false,
  left:[['Solar Elevation',52]],right:[['Solar Radiation',1661]]},
 {top:187.3,bot:353.7,yl:[50,100],yr:[20,25],tl:[50,60,70,80,90,100],tr:[20,21,22,23,24],topTick:true,
  left:[['Relative',21.5],['Humidity',43]],right:[['Seawater',1656],['Temp.',1677]]},
 {top:367.3,bot:533.7,yl:[21.97,37.06],yr:[22.52,34.83],tl:[25,30,35],tr:[25,30],topTick:true,
  left:[['Heat (--) &',30.5],['THW Indices',51]],right:[['Wind Chill (--) &',1656],['Ambient Temp.',1677]]},
 {top:549,bot:715.3,yl:[0,369],yr:[0,30],tl:[0,100,200,300],tr:[0,10,20,30],topTick:false,
  left:[['Wind Direction',43]],right:[['Wind Speed',1656]]},
 {top:732.3,bot:899,yl:[752.93,761.02],yr:[0,2],tl:[754,756,758,760],tr:[0,1,2],topTick:false,
  left:[['Barometric',21],['Pressure',43]],right:[['Tide Height',1650]]}
];

const fmt=d3.format('d');

function styleAxis(a){
 a.select('.domain').attr('stroke','#000').attr('stroke-width',1.4);
 a.selectAll('.tick line').attr('stroke','#000').attr('stroke-width',1.4);
}

function setup(p,i){
 const yl=d3.scaleLinear().domain(p.yl).range([p.bot,p.top]);
 const yr=d3.scaleLinear().domain(p.yr).range([p.bot,p.top]);
 const g=svg.append('g');
 const b=g.append('g').attr('transform',`translate(0,${p.bot})`)
   .call(d3.axisBottom(x).tickValues(dayLabels).tickSize(-16).tickSizeOuter(0).tickPadding(7).tickFormat(i===4?fmt:()=>''));
 styleAxis(b);
 const l=g.append('g').attr('transform',`translate(${x(120)},0)`)
   .call(d3.axisLeft(yl).tickValues(p.tl).tickSize(-15).tickSizeOuter(0).tickPadding(8).tickFormat(fmt));
 styleAxis(l);
 const r=g.append('g').attr('transform',`translate(${x(137)},0)`)
   .call(d3.axisRight(yr).tickValues(p.tr).tickSize(-15).tickSizeOuter(0).tickPadding(5).tickFormat(fmt));
 styleAxis(r);
 // right-hand numbers are set a little narrower, as in the original
 r.selectAll('.tick text').attr('x',0).attr('transform','translate(4,0) scale(0.8,1)');
 if(p.topTick) g.append('line').attr('x1',x(137)-15).attr('x2',x(137)).attr('y1',p.top).attr('y2',p.top).attr('stroke','#000').attr('stroke-width',1.4);
 const cy=(p.top+p.bot)/2;
 p.left.concat(p.right).forEach(([t,cx])=>{
  g.append('text').attr('class','lab').attr('transform',`translate(${cx},${cy}) rotate(-90)`)
   .attr('text-anchor','middle').attr('dominant-baseline','central').text(t);
 });
 g.append('clipPath').attr('id','clip'+i).append('rect').attr('x',x(120)).attr('y',p.top).attr('width',x(137)-x(120)).attr('height',p.bot-p.top);
 const plot=svg.append('g').attr('clip-path',`url(#clip${i})`);
 return {plot,yl,yr};
}

function lines(plot,series,y,dotted){
 series.forEach((pts,k)=>{
  const day=days[k];
  const line=d3.line().x(d=>x(day+d[0])).y(d=>y(d[1]));
  plot.append('path').attr('d',line(pts)).attr('fill','none').attr('stroke','#000')
   .attr('stroke-width',1.1).attr('stroke-dasharray',dotted?'1.2,2.6':null);
 });
}

const P=panels.map(setup);

// panel 1
const sunSeries=days.map((d,k)=>sunT.map((t,j)=>[t,sunElev[j]]).filter(q=>q[0]>=sunWindow[k][0]&&q[0]<=sunWindow[k][1]));
lines(P[0].plot,sunSeries,P[0].yl,true);
lines(P[0].plot,solarRad,P[0].yr,false);
// panel 2
lines(P[1].plot,humidity,P[1].yl,true);
lines(P[1].plot,seaTemp,P[1].yr,false);
// panel 3
lines(P[2].plot,thwIndex,P[2].yl,true);
lines(P[2].plot,heatIndex,P[2].yl,false);
lines(P[2].plot,ambientTemp,P[2].yr,true);
lines(P[2].plot,windChill,P[2].yr,false);
// panel 4
lines(P[3].plot,windSpeed,P[3].yr,false);
windDir.forEach((pts,k)=>{
 const day=days[k];
 P[3].plot.append('g').selectAll('path').data(pts).join('path')
  .attr('d','M-3,0H3M0,-3V3').attr('stroke','#000').attr('stroke-width',1.2)
  .attr('transform',d=>`translate(${x(day+d[0])},${P[3].yl(d[1])})`);
});
// panel 5
lines(P[4].plot,pressure,P[4].yl,true);
lines(P[4].plot,tide,P[4].yr,false);

svg.append('text').attr('class','lab').attr('x',(x(120)+x(137))/2).attr('y',939).attr('text-anchor','middle').text('Day of Year');
})();
</script>
</body></html>
